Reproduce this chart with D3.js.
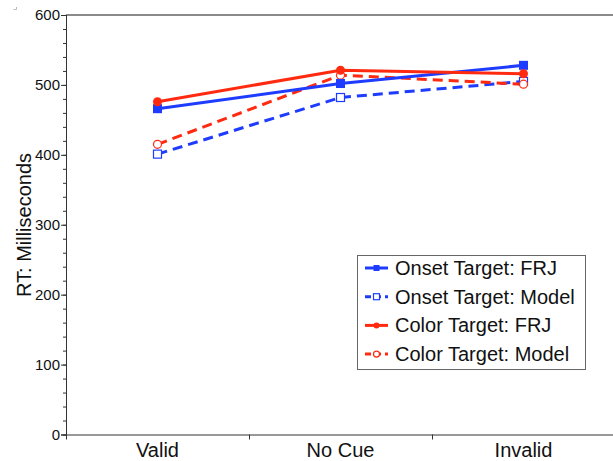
<!DOCTYPE html>
<html><head><meta charset="utf-8">
<script src="https://cdn.jsdelivr.net/npm/d3@7"></script>
<style>body{margin:0;background:#fff}svg{display:block}text{font-family:"Liberation Sans",Arial,sans-serif}</style>
</head><body><svg id="c" width="613" height="461"></svg>
<script>
const categories = ["Valid", "No Cue", "Invalid"];
const onsetFRJ   = [466, 502, 528];
const onsetModel = [401, 482, 505];
const colorFRJ   = [476, 521, 516];
const colorModel = [415, 514, 501];
const yTicks = [0, 100, 200, 300, 400, 500, 600];
const seriesNames = ["Onset Target: FRJ", "Onset Target: Model", "Color Target: FRJ", "Color Target: Model"];

const BLUE = "#1e3cff", RED = "#ff2a10";
const series = [
  {name: seriesNames[0], values: onsetFRJ,   color: BLUE, dash: null,  marker: "square", fill: true},
  {name: seriesNames[1], values: onsetModel, color: BLUE, dash: "10,6", marker: "square", fill: false},
  {name: seriesNames[2], values: colorFRJ,   color: RED,  dash: null,  marker: "circle", fill: true},
  {name: seriesNames[3], values: colorModel, color: RED,  dash: "10,6", marker: "circle", fill: false}
];

const svg = d3.select("#c");
const L = 66, R = 615, T = 15, B = 434.5;
const x = d3.scaleBand().domain(categories).range([L, R]);
const y = d3.scaleLinear().domain([0, 600]).range([B, T]);

// top frame line
svg.append("line").attr("x1", L).attr("x2", 613).attr("y1", T).attr("y2", T)
  .attr("stroke", "#8a8a8a").attr("stroke-width", 2);
// tiny corner mark
svg.append("path").attr("d", "M13.5,9.5 H16.5 V7").attr("fill", "none").attr("stroke", "#bbb").attr("stroke-width", 1);

// y axis minor ticks
const yAxisG = svg.append("g").attr("transform", `translate(${L},0)`);
yAxisG.call(d3.axisLeft(y).tickValues(d3.range(0, 601, 20)).tickSize(3).tickFormat(""));
yAxisG.selectAll(".tick line").attr("stroke", "#333");
yAxisG.select(".domain").remove();
// y axis major ticks
const yMajor = svg.append("g").attr("transform", `translate(${L},0)`)
  .call(d3.axisLeft(y).tickValues(yTicks).tickSize(5).tickPadding(1));
yMajor.select(".domain").attr("stroke", "#333");
yMajor.selectAll(".tick line").attr("stroke", "#333");
yMajor.selectAll("text").attr("font-size", 15).attr("fill", "#111")
  .attr("font-family", '"Liberation Sans",Arial,sans-serif');
svg.append("line").attr("x1", L + 0.5).attr("x2", L + 0.5).attr("y1", T).attr("y2", B + 5).attr("stroke", "#333");

// x axis
const xAxisG = svg.append("g").attr("transform", `translate(0,${B})`)
  .call(d3.axisBottom(x).tickSize(0).tickPadding(8));
xAxisG.select(".domain").attr("stroke", "#333");
xAxisG.selectAll("text").attr("font-size", 20).attr("fill", "#111")
  .attr("font-family", '"Liberation Sans",Arial,sans-serif');
// boundary ticks
const bounds = categories.map(c => x(c)).concat([R]);
svg.append("g").selectAll("line").data(bounds.slice(1, 3)).join("line")
  .attr("x1", d => d + 0.5).attr("x2", d => d + 0.5).attr("y1", B).attr("y2", B + 5).attr("stroke", "#333");

// y label
svg.append("text").attr("transform", "translate(31,225) rotate(-90)")
  .attr("text-anchor", "middle").attr("font-size", 20).attr("fill", "#111").text("RT: Milliseconds");

const cx = c => x(c) + x.bandwidth() / 2;
const line = d3.line().x((d, i) => cx(categories[i])).y(d => y(d));

function marker(g, s, px, py, size) {
  if (s.marker === "square") {
    g.append("rect").attr("x", px - size / 2).attr("y", py - size / 2).attr("width", size).attr("height", size)
      .attr("fill", s.fill ? s.color : "#fff").attr("stroke", s.color).attr("stroke-width", s.fill ? 0 : 1.2);
  } else {
    g.append("circle").attr("cx", px).attr("cy", py).attr("r", size / 2)
      .attr("fill", s.fill ? s.color : "#fff").attr("stroke", s.color).attr("stroke-width", s.fill ? 0 : 1.2);
  }
}

const order = [1, 3, 0, 2];
order.forEach(k => {
  const s = series[k];
  svg.append("path").datum(s.values).attr("d", line).attr("fill", "none")
    .attr("stroke", s.color).attr("stroke-width", 3).attr("stroke-dasharray", s.dash);
});
order.forEach(k => {
  const s = series[k];
  const g = svg.append("g");
  s.values.forEach((v, i) => marker(g, s, cx(categories[i]), y(v), s.fill ? 9 : 8));
});

// legend
const lg = svg.append("g");
lg.append("rect").attr("x", 357.5).attr("y", 255.5).attr("width", 228).attr("height", 114)
  .attr("fill", "#fff").attr("stroke", "#666").attr("stroke-width", 1);
series.forEach((s, i) => {
  const yy = 268 + i * 28.7;
  lg.append("line").attr("x1", 365).attr("x2", 388).attr("y1", yy).attr("y2", yy)
    .attr("stroke", s.color).attr("stroke-width", 3).attr("stroke-dasharray", s.dash ? "6,4" : null);
  marker(lg, s, 376.5, yy, 6);
  lg.append("text").attr("x", 395).attr("y", yy + 7).attr("font-size", 20).attr("fill", "#111").text(s.name);
});
</script></body></html>
